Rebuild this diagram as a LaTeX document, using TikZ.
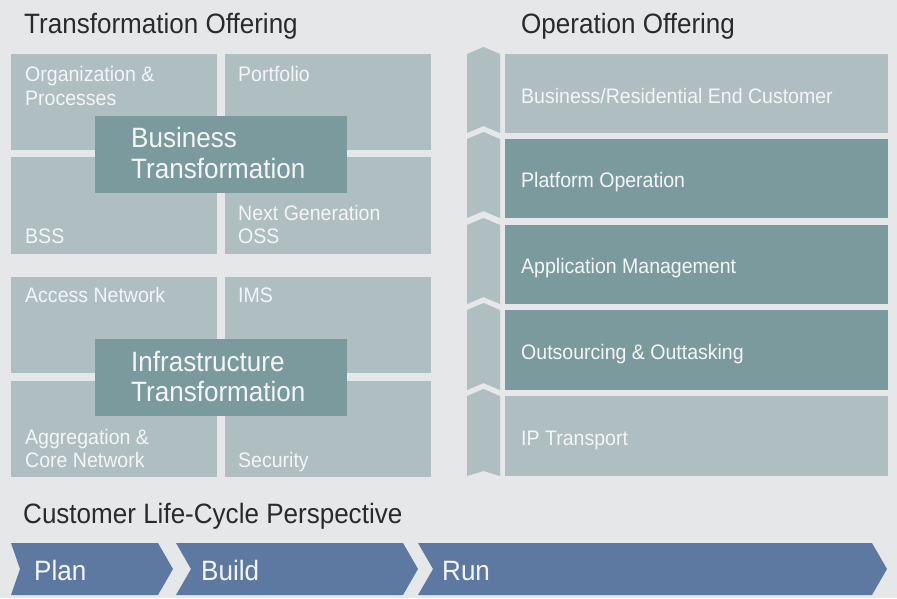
\documentclass[tikz,border=0pt]{standalone}
\usepackage{fontspec}
\setmainfont[FakeStretch=0.93]{Liberation Sans}
\definecolor{pagebg}{HTML}{E6E7E9}
\definecolor{tilelight}{HTML}{AEBEC1}
\definecolor{tiledark}{HTML}{7B9A9D}
\definecolor{lifeblue}{HTML}{5E79A1}
\definecolor{headgrey}{HTML}{2A2A2A}
\definecolor{tiletext}{HTML}{F4F6F6}
\tikzset{
  tile/.style={fill=tilelight},
  darktile/.style={fill=tiledark},
  phase/.style={fill=lifeblue},
  heading/.style={anchor=base west,inner sep=0pt,text=headgrey,font=\fontsize{28}{31}\selectfont},
  smalltext/.style={anchor=base west,inner sep=0pt,text=tiletext,align=left,font=\fontsize{21}{23.3}\selectfont},
  bigtext/.style={anchor=base west,inner sep=0pt,text=tiletext,align=left,font=\fontsize{28}{30.6}\selectfont}
}
\begin{document}
\begin{tikzpicture}[x=1pt,y=-1pt]
\fill[pagebg] (0,0) rectangle (897,598);
\useasboundingbox (0,0) rectangle (897,598);
% headings
\node[heading] (transhead) at (24,33) {Transformation Offering};
\node[heading] (ophead) at (521,33) {Operation Offering};
\node[heading] (lifehead) at (23,523) {Customer Life-Cycle Perspective};
% business transformation
\fill[tile] (11,54) rectangle (217,150);
\fill[tile] (225,54) rectangle (431,150);
\fill[tile] (11,157) rectangle (217,254);
\fill[tile] (225,157) rectangle (431,254);
\fill[darktile] (95,116) rectangle (347,193);
\node[smalltext] (orgproc) at (25,105) {Organization \&\\Processes};
\node[smalltext] (portfolio) at (238,81.5) {Portfolio};
\node[smalltext] (bss) at (25,243.3) {BSS};
\node[smalltext] (ngoss) at (238,243.3) {Next Generation\\OSS};
\node[bigtext] (bustrans) at (131,178.3) {Business\\Transformation};
% infrastructure transformation
\fill[tile] (11,277) rectangle (217,373);
\fill[tile] (225,277) rectangle (431,373);
\fill[tile] (11,381) rectangle (217,477);
\fill[tile] (225,381) rectangle (431,477);
\fill[darktile] (95,339) rectangle (347,416);
\node[smalltext] (access) at (25,302.7) {Access Network};
\node[smalltext] (ims) at (238,302.7) {IMS};
\node[smalltext] (aggr) at (25,467.3) {Aggregation \&\\Core Network};
\node[smalltext] (security) at (238,467.3) {Security};
\node[bigtext] (infratrans) at (131,401.7) {Infrastructure\\Transformation};
% operation offering
\fill[tile] (467,54) -- (483.5,47) -- (500,54) -- (500,133) -- (483.5,126) -- (467,133) -- cycle;
\fill[tile] (467,139) -- (483.5,132) -- (500,139) -- (500,218) -- (483.5,211) -- (467,218) -- cycle;
\fill[tile] (467,225) -- (483.5,218) -- (500,225) -- (500,304) -- (483.5,297) -- (467,304) -- cycle;
\fill[tile] (467,310) -- (483.5,303) -- (500,310) -- (500,390) -- (483.5,383) -- (467,390) -- cycle;
\fill[tile] (467,396) -- (483.5,389) -- (500,396) -- (500,476) -- (483.5,471) -- (467,476) -- cycle;
\fill[tile] (505,54) rectangle (888,133);
\fill[darktile] (505,139) rectangle (888,218);
\fill[darktile] (505,225) rectangle (888,304);
\fill[darktile] (505,310) rectangle (888,390);
\fill[tile] (505,396) rectangle (888,476);
\node[smalltext] (endcust) at (521,103) {Business/Residential End Customer};
\node[smalltext] (platform) at (521,187.5) {Platform Operation};
\node[smalltext] (appmgmt) at (521,273.5) {Application Management};
\node[smalltext] (outsrc) at (521,359) {Outsourcing \& Outtasking};
\node[smalltext] (iptrans) at (521,445) {IP Transport};
% life-cycle
\fill[phase] (11,543) -- (158,543) -- (173,569) -- (158,595) -- (11,595) -- (20,569) -- cycle;
\fill[phase] (176,543) -- (403,543) -- (418,569) -- (403,595) -- (176,595) -- (191,569) -- cycle;
\fill[phase] (418,543) -- (872,543) -- (887,569) -- (872,595) -- (418,595) -- (433,569) -- cycle;
\node[heading,text=tiletext] (plan) at (34,580.7) {Plan};
\node[heading,text=tiletext] (build) at (201,580.7) {Build};
\node[heading,text=tiletext] (run) at (442,580.7) {Run};
\end{tikzpicture}
\end{document}
